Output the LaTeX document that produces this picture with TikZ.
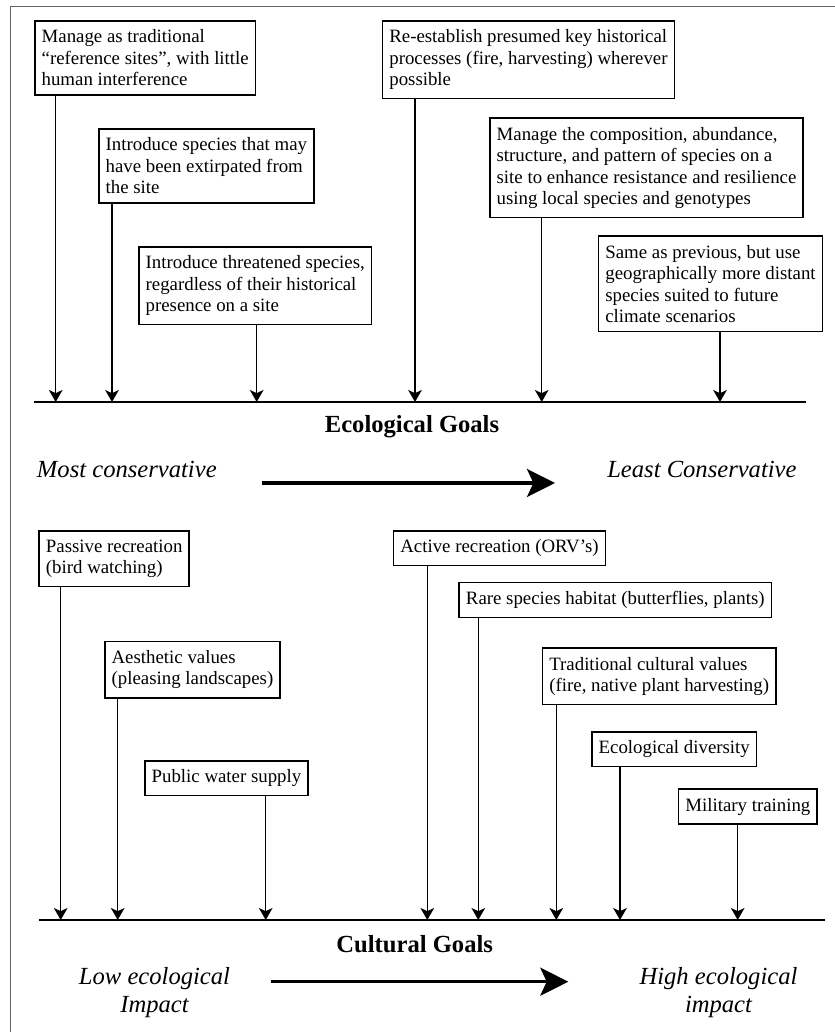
\documentclass[tikz,border=0pt]{standalone}
\usepackage{fontspec}
\setmainfont{Liberation Serif}
\usepackage{tikz}
\usetikzlibrary{arrows.meta}

\begin{document}
\begin{tikzpicture}[
  box/.style={draw, line width=1.2pt, anchor=north west, align=left, inner xsep=0.17cm, inner ysep=0.22cm, font=\fontsize{13.4}{15.3}\selectfont},
  down/.style={-{Stealth[length=0.3cm, width=0.34cm, inset=0.08cm]}, line width=1.1pt},
  axis/.style={line width=2pt},
  goal/.style={font=\fontsize{17.5}{20}\selectfont\bfseries, inner sep=0pt},
  side/.style={font=\fontsize{17.5}{19.9}\selectfont\itshape, align=center, inner sep=0pt},
  big/.style={-{Stealth[length=0.7cm, width=0.7cm, inset=0.16cm]}, line width=2.35pt},
  frame/.style={draw=black!60, line width=0.6pt}
]
\useasboundingbox (0,0) rectangle (20.875,25.8);
\draw[frame] (0.25,0) -- (0.25,25.65) -- (20.875,25.65);

% ecological goals (top)
\coordinate (el) at (0.85,15.75);
\coordinate (er) at (20.15,15.75);
\draw[axis] (el) -- (er);
\node[box] (b1) at (0.85,25.3) {Manage as traditional\\“reference sites”, with little\\human interference};
\node[box] (b2) at (2.45,22.6) {Introduce species that may\\have been extirpated from\\the site};
\node[box] (b3) at (3.45,19.65) {Introduce threatened species,\\regardless of their historical\\presence on a site};
\node[box] (b4) at (9.5425,25.3) {Re-establish presumed key historical\\processes (fire, harvesting) wherever\\possible};
\node[box] (b5) at (12.225,22.8675) {Manage the composition, abundance,\\structure, and pattern of species on a\\site to enhance resistance and resilience\\using local species and genotypes};
\node[box] (b6) at (14.9425,19.9175) {Same as previous, but use\\geographically more distant\\species suited to future\\climate scenarios};
\draw[down] ([xshift=0.5425cm]b1.south west) coordinate (t1) -- (t1 |- el);
\draw[down] ([xshift=0.35cm]b2.south west) coordinate (t2) -- (t2 |- el);
\draw[down] ([xshift=2.9675cm]b3.south west) coordinate (t3) -- (t3 |- el);
\draw[down] ([xshift=0.8325cm]b4.south west) coordinate (t4) -- (t4 |- el);
\draw[down] ([xshift=1.3175cm]b5.south west) coordinate (t5) -- (t5 |- el);
\draw[down] ([xshift=3.0575cm]b6.south west) coordinate (t6) -- (t6 |- el);
\node[goal, anchor=base] (eg) at (10.3,14.975) {Ecological Goals};
\node[side, anchor=base west] (most) at (0.9175,13.85) {Most conservative};
\node[side, anchor=base west] (least) at (15.175,13.85) {Least Conservative};
\coordinate (m1) at (6.55,13.725);
\coordinate (m2) at (13.875,13.725);
\draw[big] (m1) -- (m2);

% cultural goals (bottom)
\coordinate (cl) at (0.975,2.8);
\coordinate (cr) at (20.625,2.8);
\draw[axis] (cl) -- (cr);
\node[box] (c1) at (0.9575,12.55) {Passive recreation\\(bird watching)};
\node[box] (c2) at (2.6,9.7825) {Aesthetic values\\(pleasing landscapes)};
\node[box] (c3) at (3.6,6.8) {Public water supply};
\node[box] (c4) at (9.8175,12.55) {Active recreation (ORV’s)};
\node[box] (c5) at (11.4575,11.2575) {Rare species habitat (butterflies, plants)};
\node[box] (c6) at (13.5425,9.6175) {Traditional cultural values\\(fire, native plant harvesting)};
\node[box] (c7) at (14.775,7.525) {Ecological diversity};
\node[box] (c8) at (16.9425,6.0925) {Military training};
\draw[down] ([xshift=0.56cm]c1.south west) coordinate (s1) -- (s1 |- cl);
\draw[down] ([xshift=0.3425cm]c2.south west) coordinate (s2) -- (s2 |- cl);
\draw[down] ([xshift=3.0425cm]c3.south west) coordinate (s3) -- (s3 |- cl);
\draw[down] ([xshift=0.865cm]c4.south west) coordinate (s4) -- (s4 |- cl);
\draw[down] ([xshift=0.5cm]c5.south west) coordinate (s5) -- (s5 |- cl);
\draw[down] ([xshift=0.365cm]c6.south west) coordinate (s6) -- (s6 |- cl);
\draw[down] ([xshift=0.725cm]c7.south west) coordinate (s7) -- (s7 |- cl);
\draw[down] ([xshift=1.5cm]c8.south west) coordinate (s8) -- (s8 |- cl);
\node[goal, anchor=base] (cg) at (10.3675,1.9925) {Cultural Goals};
\node[side, anchor=north] (low) at (3.8625,1.61) {Low ecological\\Impact};
\node[side, anchor=north] (high) at (17.9625,1.61) {High ecological\\impact};
\coordinate (n1) at (6.7675,1.2575);
\coordinate (n2) at (14.2075,1.2575);
\draw[big] (n1) -- (n2);
\end{tikzpicture}
\end{document}
